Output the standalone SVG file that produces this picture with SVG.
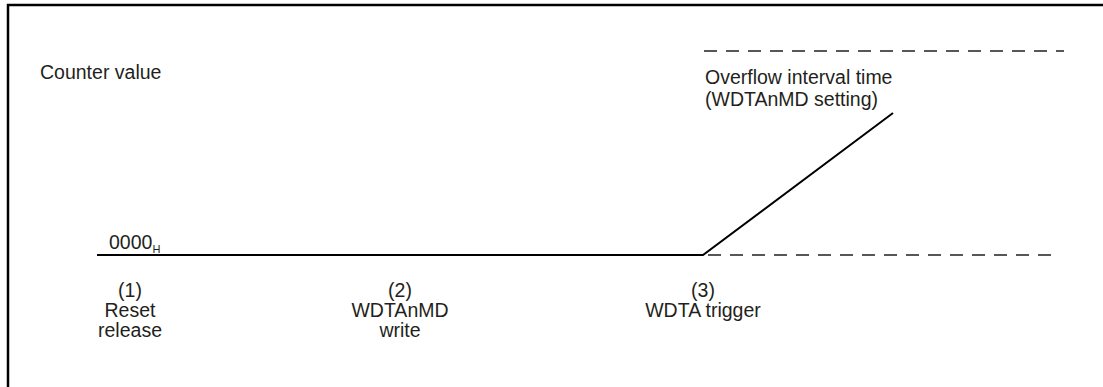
<svg xmlns="http://www.w3.org/2000/svg" width="1103" height="387" viewBox="0 0 1103 387">
<style>
text{font-family:"Liberation Sans",Arial,sans-serif;font-size:19.5px;fill:#231f20}
.c{text-anchor:middle}
.solid{stroke:#000;stroke-width:2;fill:none}
.dash{stroke:#231f20;stroke-width:1.3;stroke-dasharray:13 9;fill:none}
</style>
<rect width="1103" height="387" fill="#fff"/>
<g id="frame"><polyline points="8,387 8,5 1103,5" fill="none" stroke="#000" stroke-width="2.5"/></g>
<g id="connectors">
<polyline class="solid" points="97,255 703,255 893,113"/>
<line class="dash" x1="704" y1="51" x2="1064" y2="51"/>
<line class="dash" x1="708" y1="255" x2="1054" y2="255"/>
</g>
<g id="axis-label"><text x="40" y="79">Counter value</text></g>
<g id="zero-label"><text x="109" y="249">0000<tspan font-size="11" dy="4">H</tspan></text></g>
<g id="overflow-label"><text x="705" y="84">Overflow interval time</text><text x="705" y="106">(WDTAnMD setting)</text></g>
<g id="event1"><text class="c" x="130" y="297">(1)</text><text class="c" x="130" y="317">Reset</text><text class="c" x="130" y="337">release</text></g>
<g id="event2"><text class="c" x="400" y="297">(2)</text><text class="c" x="400" y="317">WDTAnMD</text><text class="c" x="400" y="337">write</text></g>
<g id="event3"><text class="c" x="703" y="297">(3)</text><text class="c" x="703" y="317">WDTA trigger</text></g>
</svg>
